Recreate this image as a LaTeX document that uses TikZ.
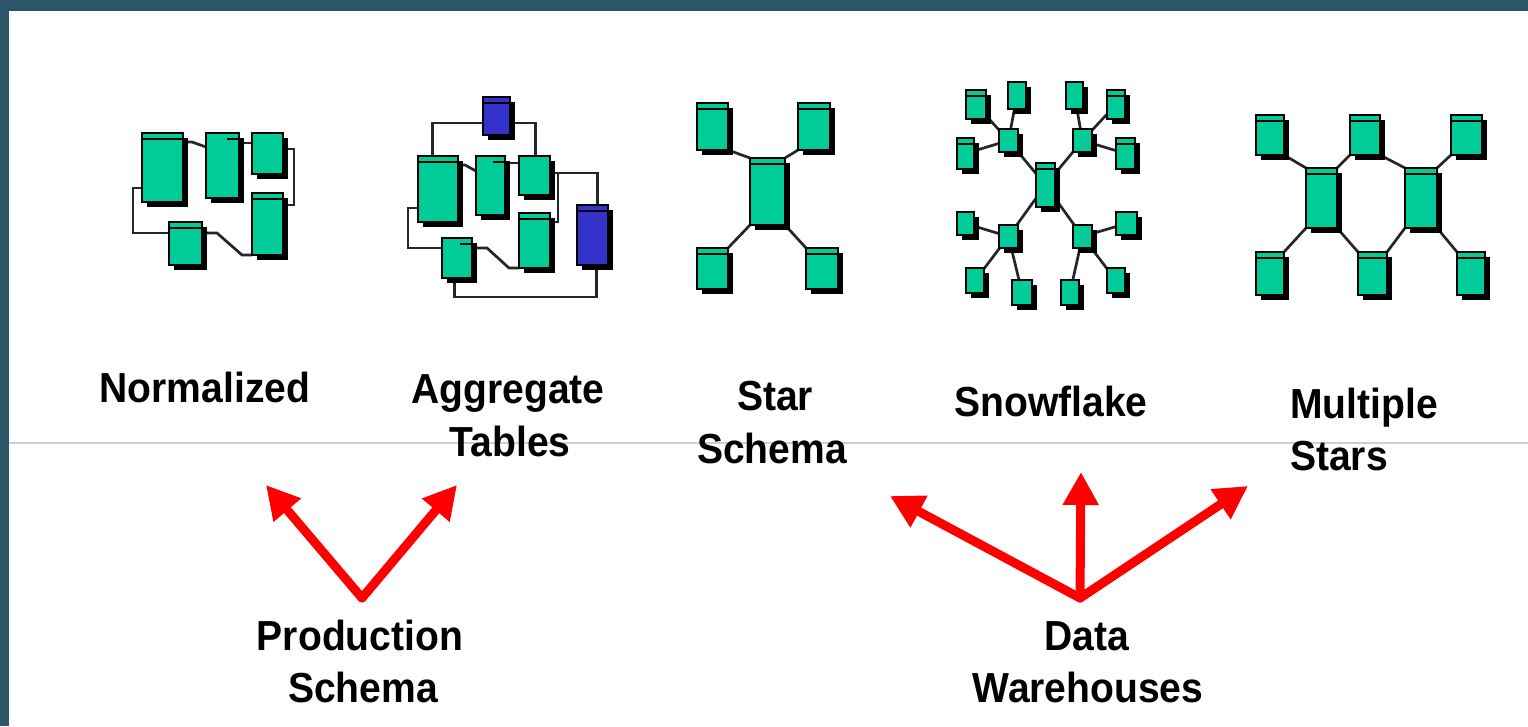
\documentclass[tikz,border=0pt]{standalone}
\usepackage{fontspec}
\setmainfont{Liberation Sans}[FakeStretch=0.93]
\usetikzlibrary{arrows.meta,shadows}
\pgfdeclarelayer{back}
\pgfdeclarelayer{bg}
\pgfsetlayers{back,bg,main}
\definecolor{frame}{RGB}{44,85,105}
\definecolor{rule}{RGB}{200,208,216}
\definecolor{tgreen}{RGB}{0,204,153}
\definecolor{tblue}{RGB}{51,51,204}
\definecolor{ared}{RGB}{255,0,0}
\newcommand{\mktab}[6][]{%
  \node[tbl,#1,minimum width={#5-#3-5},minimum height={#6-#4-5}] (#2)
    at ({(#3+#5-5)/2},{(#4+#6-5)/2}) {};}
\tikzset{
  tbl/.style={draw=black, line width=1.8pt, fill=tgreen, inner sep=0pt, outer sep=0pt,
    drop shadow={shadow xshift=4.5pt, shadow yshift=-4.5pt, fill=black, opacity=1}},
  bluetbl/.style={fill=tblue},
  hdr/.style={path picture={\draw[line width=1.8pt]
    ([yshift=-6pt]path picture bounding box.north west) --
    ([yshift=-6pt]path picture bounding box.north east);}},
  tab/.style={path picture={\draw[line width=1.8pt]
    ([yshift=-6pt,xshift=-12pt]path picture bounding box.north east) --
    ([yshift=-6pt]path picture bounding box.north east);}},
  cn/.style={draw=black!85, line width=2.7pt},
  lbl/.style={font=\fontsize{42}{50}\selectfont\bfseries, inner sep=0pt, anchor=base},
  redarrow/.style={draw=ared, line width=9pt, line cap=round,
    -{Triangle[length=33pt,width=34pt]}}
}
\begin{document}
\begin{tikzpicture}[x=1pt,y=-1pt]
\useasboundingbox (0,0) rectangle (1528,726);
\begin{pgfonlayer}{back}
  \fill[white] (0,0) rectangle (1528,726);
  \fill[frame] (0,0) rectangle (1528,11);
  \fill[frame] (0,0) rectangle (9,726);
  \draw[rule, line width=2pt] (9,443) -- (1528,443);
\end{pgfonlayer}

% ---------- Normalized ----------
\mktab[hdr]{n1a}{142}{133}{188}{207}
\mktab[tab]{n1b}{206}{133}{244}{203}
\mktab{n1c}{252}{133}{288}{179}
\mktab[hdr]{n1d}{252}{193}{288}{260}
\mktab[hdr]{n1e}{169}{222}{207}{270}
\begin{pgfonlayer}{bg}
  \draw[cn] ([yshift=-9pt]n1a.north east) -- ++(9,0) -- ([yshift=-14pt]n1b.north west);
  \draw[cn] ([yshift=-10pt]n1b.north east) -- ([yshift=-10pt]n1c.north west);
  \draw[cn] ([yshift=-16pt]n1c.north east) -- ++(11,0) |- ([yshift=-12pt]n1d.north east);
  \draw[cn] ([yshift=-55pt]n1a.north west) -- ++(-9,0) |- ([yshift=-11pt]n1e.north west);
  \draw[cn] ([yshift=-11pt]n1e.north east) -- ++(15,0) -- ++(25,22) -- ([yshift=-62pt]n1d.north west);
\end{pgfonlayer}

% ---------- Aggregate Tables ----------
\mktab[bluetbl,hdr]{n2top}{483}{97}{515}{140}
\mktab[hdr]{n2a}{418}{156}{463}{227}
\mktab[tab]{n2b}{476}{156}{510}{220}
\mktab{n2c}{519}{156}{555}{200}
\mktab[hdr]{n2d}{519}{213}{555}{273}
\mktab[tab]{n2e}{442}{238}{477}{283}
\mktab[bluetbl,hdr]{n2f}{577}{205}{613}{270}
\begin{pgfonlayer}{bg}
  \draw[cn] ([yshift=-26pt]n2top.north west) -| ([xshift=-5.5pt]n2a.north);
  \draw[cn] ([yshift=-26pt]n2top.north east) -| ([xshift=1pt]n2c.north);
  \draw[cn] ([yshift=-9pt]n2a.north east) -- ++(7,0) -- ([yshift=-15pt]n2b.north west);
  \draw[cn] ([yshift=-7pt]n2b.north east) -- ([yshift=-7pt]n2c.north west);
  \draw[cn] ([yshift=-17pt]n2c.north east) -| ([xshift=5pt]n2f.north);
  \draw[cn] ([yshift=-17pt]n2c.north east) -- ++(8,0) |- ([yshift=-9pt]n2d.north east);
  \draw[cn] ([yshift=-52pt]n2a.north west) -- ++(-10,0) |- ([yshift=-10pt]n2e.north west);
  \draw[cn] ([yshift=-10pt]n2e.north east) -- ++(15,0) -- ++(22,20) -- ([yshift=-55pt]n2d.north west);
  \draw[cn] ([xshift=-2.5pt]n2e.south) -- ++(0,19) -| ([xshift=4pt]n2f.south);
\end{pgfonlayer}

% ---------- Star Schema ----------
\mktab[hdr]{n3tl}{697}{103}{733}{155}
\mktab[hdr]{n3tr}{798}{103}{835}{155}
\mktab[hdr]{n3c}{750}{158}{790}{230}
\mktab[hdr]{n3bl}{697}{248}{733}{294}
\mktab[hdr]{n3br}{806}{248}{843}{294}
\begin{pgfonlayer}{bg}
  \draw[cn] (n3tl.south east) -- (n3c.north west);
  \draw[cn] (n3tr.south west) -- (n3c.north east);
  \draw[cn] (n3c.south west) -- (n3bl.north east);
  \draw[cn] (n3c.south east) -- (n3br.north west);
\end{pgfonlayer}

% ---------- Snowflake ----------
\mktab[hdr]{n4c}{1036}{163}{1060}{212}
\mktab{n4h1}{999}{129}{1023}{157}
\mktab{n4h2}{1073}{129}{1097}{157}
\mktab{n4h3}{999}{225}{1023}{253}
\mktab{n4h4}{1073}{225}{1097}{253}
\mktab[hdr]{n4l1}{966}{90}{991}{124}
\mktab{n4l2}{1008}{82}{1031}{114}
\mktab[hdr]{n4l3}{957}{138}{979}{174}
\mktab{n4l4}{1066}{82}{1088}{114}
\mktab[hdr]{n4l5}{1107}{90}{1130}{124}
\mktab[hdr]{n4l6}{1116}{138}{1140}{174}
\mktab{n4l7}{957}{212}{979}{240}
\mktab{n4l8}{966}{268}{989}{298}
\mktab{n4l9}{1012}{280}{1037}{310}
\mktab{n4l10}{1061}{280}{1084}{310}
\mktab{n4l11}{1107}{268}{1130}{298}
\mktab{n4l12}{1116}{212}{1142}{240}
\begin{pgfonlayer}{bg}
  \foreach \h in {n4h1,n4h2,n4h3,n4h4} \draw[cn] (\h.center) -- (n4c.center);
  \foreach \l in {n4l1,n4l2,n4l3} \draw[cn] (\l.center) -- (n4h1.center);
  \foreach \l in {n4l4,n4l5,n4l6} \draw[cn] (\l.center) -- (n4h2.center);
  \foreach \l in {n4l7,n4l8,n4l9} \draw[cn] (\l.center) -- (n4h3.center);
  \foreach \l in {n4l10,n4l11,n4l12} \draw[cn] (\l.center) -- (n4h4.center);
\end{pgfonlayer}

% ---------- Multiple Stars ----------
\mktab[hdr]{n5tl}{1256}{115}{1289}{160}
\mktab[hdr]{n5tm}{1350}{115}{1385}{160}
\mktab[hdr]{n5tr}{1451}{115}{1487}{160}
\mktab[hdr]{n5c1}{1306}{168}{1342}{233}
\mktab[hdr]{n5c2}{1405}{168}{1442}{233}
\mktab[hdr]{n5bl}{1256}{252}{1289}{300}
\mktab[hdr]{n5bm}{1358}{252}{1392}{300}
\mktab[hdr]{n5br}{1457}{252}{1490}{300}
\begin{pgfonlayer}{bg}
  \draw[cn] (n5tl.south east) -- (n5c1.north west);
  \draw[cn] (n5tm.south west) -- (n5c1.north east);
  \draw[cn] (n5tm.south east) -- (n5c2.north west);
  \draw[cn] (n5tr.south west) -- (n5c2.north east);
  \draw[cn] (n5c1.south west) -- (n5bl.north east);
  \draw[cn] (n5c1.south east) -- (n5bm.north west);
  \draw[cn] (n5c2.south west) -- (n5bm.north east);
  \draw[cn] (n5c2.south east) -- (n5br.north west);
\end{pgfonlayer}

% ---------- Labels ----------
\node[lbl] (tNorm) at (205,402) {Normalized};
\node[lbl] (tAgg1) at (508,403) {Aggregate};
\node[lbl] (tAgg2) at (510,456) {Tables};
\node[lbl] (tStar1) at (775,410) {Star};
\node[lbl] (tStar2) at (772,463) {Schema};
\node[lbl] (tSnow) at (1051,416) {Snowflake};
\node[lbl, anchor=base west] (tMul1) at (1290,418) {Multiple};
\node[lbl, anchor=base west] (tMul2) at (1290,470) {Stars};
\node[lbl] (tProd1) at (360,650) {Production};
\node[lbl] (tProd2) at (363,702) {Schema};
\node[lbl] (tDW1) at (1087,650) {Data};
\node[lbl] (tDW2) at (1088,702) {Warehouses};

% ---------- Red arrows ----------
\coordinate (pA) at (362,598);
\coordinate (pAl) at (266,485);
\coordinate (pAr) at (457,485);
\coordinate (dA) at (1080,598);
\coordinate (dAl) at (890,496);
\coordinate (dAu) at (1081,472);
\coordinate (dAr) at (1248,486);
\draw[redarrow] (pA) -- (pAl);
\draw[redarrow] (pA) -- (pAr);
\draw[redarrow] (dA) -- (dAl);
\draw[redarrow] (dA) -- (dAu);
\draw[redarrow] (dA) -- (dAr);
\end{tikzpicture}
\end{document}
